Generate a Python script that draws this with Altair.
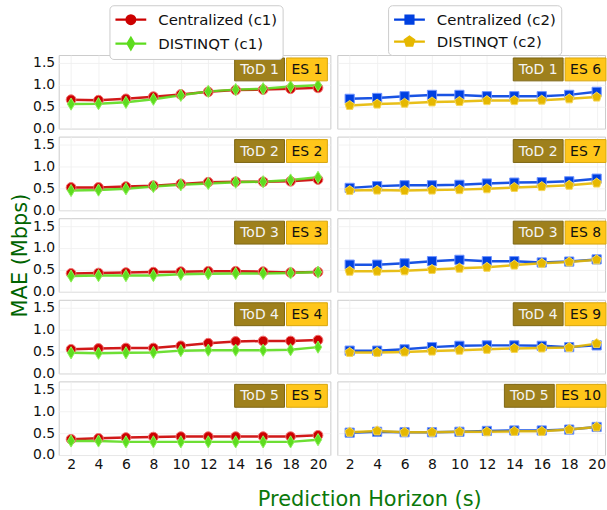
import math

import altair as alt
import pandas as pd

# ---------------------------------------------------------------- data
horizons = [2, 4, 6, 8, 10, 12, 14, 16, 18, 20]
tod_labels = ["ToD 1", "ToD 2", "ToD 3", "ToD 4", "ToD 5"]
es_c1 = ["ES 1", "ES 2", "ES 3", "ES 4", "ES 5"]
es_c2 = ["ES 6", "ES 7", "ES 8", "ES 9", "ES 10"]

# MAE (Mbps) per time of day, one list per prediction horizon sweep
central_c1 = [
    [0.66, 0.65, 0.68, 0.73, 0.78, 0.84, 0.88, 0.89, 0.91, 0.93],
    [0.52, 0.52, 0.54, 0.56, 0.60, 0.64, 0.65, 0.65, 0.66, 0.70],
    [0.42, 0.43, 0.44, 0.45, 0.46, 0.47, 0.47, 0.46, 0.44, 0.45],
    [0.55, 0.57, 0.58, 0.58, 0.63, 0.69, 0.73, 0.74, 0.74, 0.76],
    [0.36, 0.38, 0.40, 0.41, 0.42, 0.42, 0.42, 0.42, 0.42, 0.45],
]
distinqt_c1 = [
    [0.56, 0.57, 0.60, 0.67, 0.76, 0.85, 0.89, 0.91, 0.96, 0.99],
    [0.45, 0.46, 0.49, 0.54, 0.58, 0.61, 0.64, 0.65, 0.69, 0.75],
    [0.36, 0.37, 0.37, 0.37, 0.40, 0.41, 0.42, 0.42, 0.43, 0.45],
    [0.47, 0.46, 0.47, 0.48, 0.52, 0.53, 0.53, 0.53, 0.54, 0.60],
    [0.32, 0.32, 0.30, 0.30, 0.30, 0.30, 0.30, 0.30, 0.30, 0.35],
]
central_c2 = [
    [0.68, 0.70, 0.74, 0.77, 0.77, 0.74, 0.74, 0.74, 0.77, 0.84],
    [0.51, 0.55, 0.57, 0.57, 0.58, 0.61, 0.63, 0.64, 0.66, 0.72],
    [0.62, 0.62, 0.65, 0.70, 0.73, 0.70, 0.70, 0.67, 0.69, 0.74],
    [0.52, 0.52, 0.55, 0.60, 0.63, 0.64, 0.64, 0.63, 0.60, 0.64],
    [0.51, 0.53, 0.52, 0.52, 0.53, 0.55, 0.56, 0.56, 0.58, 0.64],
]
distinqt_c2 = [
    [0.53, 0.56, 0.58, 0.61, 0.62, 0.64, 0.64, 0.65, 0.68, 0.72],
    [0.45, 0.46, 0.45, 0.46, 0.47, 0.49, 0.52, 0.54, 0.57, 0.62],
    [0.47, 0.47, 0.48, 0.51, 0.54, 0.56, 0.61, 0.65, 0.68, 0.73],
    [0.48, 0.48, 0.49, 0.51, 0.53, 0.55, 0.57, 0.58, 0.59, 0.68],
    [0.52, 0.55, 0.52, 0.52, 0.53, 0.53, 0.54, 0.54, 0.58, 0.64],
]

# ---------------------------------------------------------------- styles
FONT = "DejaVu Sans"
PANEL_W_LEFT = 273
PANEL_W_RIGHT = 269
PANEL_H = 74
Y_DOMAIN = [0, 1.68]
X_DOMAIN_LEFT = [1.1, 20.9]
X_DOMAIN_RIGHT = [1.1, 20.61]

THIN_DIAMOND = "M0,-1L0.6,0L0,1L-0.6,0Z"
PENTAGON = "M" + "L".join(
    f"{math.cos(math.radians(-90 + 72 * k)):.3f},{math.sin(math.radians(-90 + 72 * k)):.3f}"
    for k in range(5)
) + "Z"

SERIES = {
    "Centralized (c1)": dict(color="#cc0000", edge="#f07070", shape="circle", size=95),
    "DISTINQT (c1)": dict(color="#5ddc1e", edge="#8cf05a", shape=THIN_DIAMOND, size=150),
    "Centralized (c2)": dict(color="#0040e0", edge="#6f93ff", shape="square", size=85),
    "DISTINQT (c2)": dict(color="#e6b800", edge="#f5d75a", shape=PENTAGON, size=100),
}


# legend glyphs: a line segment with the marker drawn over its middle
def _legend_glyph(kind):
    cx = 0.875
    line = "M-1.06,0L2.81,0"
    if kind == "circle":
        r = 0.55
        m = f"M{cx - r},0A{r},{r},0,1,1,{cx + r},0A{r},{r},0,1,1,{cx - r},0Z"
    elif kind == "diamond":
        m = f"M{cx},-0.72L{cx + 0.42},0L{cx},0.72L{cx - 0.42},0Z"
    elif kind == "square":
        m = f"M{cx - 0.5},-0.5H{cx + 0.5}V0.5H{cx - 0.5}Z"
    else:
        pts = []
        for k in range(5):
            a = math.radians(-90 + 72 * k)
            pts.append(f"{cx + 0.62 * math.cos(a):.3f},{0.62 * math.sin(a):.3f}")
        m = "M" + "L".join(pts) + "Z"
    return line + m


LEGEND_GLYPH = {
    "Centralized (c1)": _legend_glyph("circle"),
    "DISTINQT (c1)": _legend_glyph("diamond"),
    "Centralized (c2)": _legend_glyph("square"),
    "DISTINQT (c2)": _legend_glyph("pentagon"),
}


def long_table(names, central, distinqt, es_names):
    rows = []
    for i, tod in enumerate(tod_labels):
        for name, vals in zip(names, (central[i], distinqt[i])):
            for h, v in zip(horizons, vals):
                rows.append(dict(horizon=h, mae=v, series=name, tod=tod, es=es_names[i]))
    return pd.DataFrame(rows)


def panel(df, names, row, left_col, width, x_domain, es_name, with_legend):
    bottom = row == len(tod_labels) - 1
    x = alt.X(
        "horizon:Q",
        scale=alt.Scale(domain=x_domain, nice=False, zero=False),
        axis=alt.Axis(values=horizons, labels=bottom, ticks=False, domain=False,
                      grid=True, title=None, labelPadding=3),
    )
    y = alt.Y(
        "mae:Q",
        scale=alt.Scale(domain=Y_DOMAIN, nice=False, zero=True),
        axis=alt.Axis(
            values=[0, 0.5, 1.0, 1.5], format=".1f", labels=left_col, ticks=False,
            domain=False, grid=True, labelPadding=4,
            title="MAE (Mbps)" if (left_col and row == 2) else None,
            titleFontSize=21, titleColor="#006400", titleFontWeight="normal",
            titlePadding=2,
        ),
    )
    sub = df[df["tod"] == tod_labels[row]]
    base = alt.Chart(sub)
    layers = []
    for name in names:
        st = SERIES[name]
        d = base.transform_filter(alt.datum.series == name)
        layers.append(d.mark_line(color=st["color"], strokeWidth=2.5, opacity=0.9).encode(x=x, y=y))
    for name in names:
        st = SERIES[name]
        d = base.transform_filter(alt.datum.series == name)
        layers.append(
            d.mark_point(shape=st["shape"], filled=True, size=st["size"], fill=st["color"],
                         stroke=st["edge"], strokeWidth=1, opacity=1).encode(x=x, y=y)
        )

    # "ToD n" / "ES n" tags in the top-right corner
    char_w = {"E": 8.85, "S": 8.9, " ": 4.45, "T": 8.55, "o": 8.43, "D": 10.78}
    def text_w(s):
        return sum(char_w.get(c, 8.9) for c in s)
    es_right = 270
    es_left = es_right - (text_w(es_name) + 10)
    tod_right = es_left - 2
    tod_left = tod_right - (text_w(tod_labels[row]) + 9)
    tag = alt.Chart(pd.DataFrame({"tod": [tod_labels[row]], "es": [es_name]}))
    layers.append(tag.mark_rect(fill="#9e801c", stroke="#7d6614", strokeWidth=1).encode(
        x=alt.value(tod_left), x2=alt.value(tod_right), y=alt.value(3), y2=alt.value(26)))
    layers.append(tag.mark_rect(fill="#ffc61a", stroke="#d8a60e", strokeWidth=1).encode(
        x=alt.value(es_left), x2=alt.value(es_right), y=alt.value(3), y2=alt.value(26)))
    layers.append(tag.mark_text(font=FONT, fontSize=14, color="#f4f4f4", align="center",
                                baseline="middle").encode(
        text="tod:N", x=alt.value((tod_left + tod_right) / 2), y=alt.value(15)))
    layers.append(tag.mark_text(font=FONT, fontSize=14, color="#111111", align="center",
                                baseline="middle").encode(
        text="es:N", x=alt.value((es_left + es_right) / 2), y=alt.value(15)))

    if with_legend:
        colors = [SERIES[n]["color"] for n in names]
        leg = alt.Legend(
            title=None, orient="none", legendX=51, legendY=-50, direction="vertical",
            fillColor="white", strokeColor="#cccccc", cornerRadius=4, padding=5,
            labelFont=FONT, labelFontSize=15, labelColor="#111111", labelOffset=25,
            symbolSize=256, symbolStrokeWidth=2.2, rowPadding=4,
        )
        lg = alt.Chart(df).mark_point(filled=True, opacity=1).encode(
            stroke=alt.Stroke("series:N", scale=alt.Scale(domain=names, range=colors), legend=leg),
            fill=alt.Fill("series:N", scale=alt.Scale(domain=names, range=colors), legend=leg),
            shape=alt.Shape("series:N", scale=alt.Scale(domain=names, range=[LEGEND_GLYPH[n] for n in names]),
                            legend=leg),
        ).transform_filter("datum.horizon < 0")
        layers.append(lg)

    return alt.layer(*layers).properties(width=width, height=PANEL_H)


def column(names, central, distinqt, es_names, left_col, width, x_domain):
    df = long_table(names, central, distinqt, es_names)
    panels = [panel(df, names, r, left_col, width, x_domain, es_names[r], r == 0)
              for r in range(len(tod_labels))]
    return alt.vconcat(*panels, spacing=8, bounds="flush")


left = column(["Centralized (c1)", "DISTINQT (c1)"], central_c1, distinqt_c1, es_c1,
              True, PANEL_W_LEFT, X_DOMAIN_LEFT)
right = column(["Centralized (c2)", "DISTINQT (c2)"], central_c2, distinqt_c2, es_c2,
               False, PANEL_W_RIGHT, X_DOMAIN_RIGHT)

chart = (
    alt.hconcat(left, right, spacing=5)
    .resolve_scale(stroke="independent", fill="independent", shape="independent")
    .properties(
        title=alt.Title("Prediction Horizon (s)", orient="bottom", anchor="middle",
                        font=FONT, fontSize=21, fontWeight="normal", color="#0a780a",
                        offset=17, dx=62),
        padding={"left": 9, "top": 3, "right": 0, "bottom": 2},
    )
    .configure(font=FONT, background="white")
    .configure_view(stroke="#cccccc", strokeWidth=1)
    .configure_axis(labelFont=FONT, labelFontSize=14, labelColor="#111111",
                    gridColor="#eeeeee", gridWidth=0.8)
)

chart.save("out.html", embed_options={"renderer": "svg", "actions": False})
